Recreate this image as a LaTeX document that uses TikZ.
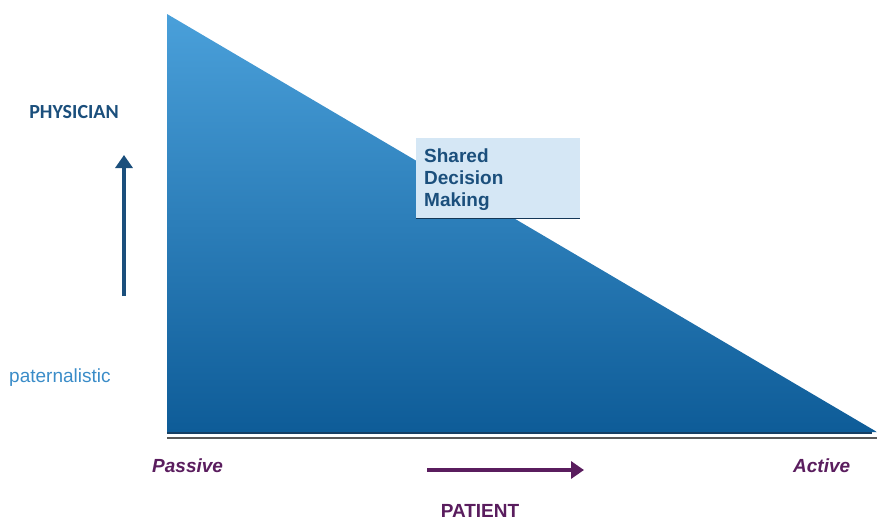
\documentclass[tikz,border=0pt]{standalone}
\usepackage{fontspec}
\setmainfont{Liberation Sans}
\newfontfamily\calib{Carlito}
\usetikzlibrary{arrows.meta}
\definecolor{topblue}{HTML}{4AA0DA}
\definecolor{botblue}{HTML}{0E5C98}
\definecolor{navy}{HTML}{1B4F7C}
\definecolor{lightblue}{HTML}{3A8CC8}
\definecolor{boxfill}{HTML}{D5E7F5}
\definecolor{plum}{HTML}{5A1D5E}
\tikzset{
  axislabel/.style={font=\bfseries\itshape\fontsize{19}{22}\selectfont, text=plum, inner sep=0pt},
  bigarrow/.style={line width=4.5pt, -{Triangle[length=13pt,width=17pt]}},
}
\begin{document}
\begin{tikzpicture}[x=1pt,y=-1pt]
\useasboundingbox (0,0) rectangle (877,522);
% wedge with vertical shading
\shade[top color=topblue, bottom color=botblue] (167,14) -- (877,432) -- (167,432) -- cycle;
\draw[line width=2pt, color=navy!80!black] (167,433) -- (872,433);
\draw[line width=2pt, color=gray!70!black] (167,438) coordinate (axl) -- (877,438) coordinate (axr);
% physician side
\node[font=\calib\bfseries\fontsize{20}{23}\selectfont, text=navy, inner sep=0pt] (phys) at (74,112) {PHYSICIAN};
\coordinate (pa) at (124,296);
\coordinate (pb) at (124,155);
\draw[bigarrow, navy] (pa) -- (pb);
\node[font=\fontsize{19}{22}\selectfont, text=lightblue, inner sep=0pt, anchor=west] (pat) at (9,378) {paternalistic};
% shared decision making box
\node[fill=boxfill, minimum width=164pt, minimum height=80pt, anchor=north west, inner sep=0pt] (sdm) at (416,138) {};
\draw[line width=1.5pt, navy!70!black] (sdm.south west) -- (sdm.south east);
\node[anchor=north west, align=left, font=\bfseries\fontsize{19}{22}\selectfont, text=navy, inner sep=0pt] (sdmt) at (424,149) {Shared\\Decision\\Making};
% patient side
\node[axislabel, anchor=west] (passive) at (152,466) {Passive};
\node[axislabel, anchor=west] (active) at (793,466) {Active};
\coordinate (qa) at (427,470);
\coordinate (qb) at (584,470);
\draw[bigarrow, plum] (qa) -- (qb);
\node[font=\bfseries\fontsize{19}{22}\selectfont, text=plum, inner sep=0pt] (patient) at (480,511) {PATIENT};
\end{tikzpicture}
\end{document}
